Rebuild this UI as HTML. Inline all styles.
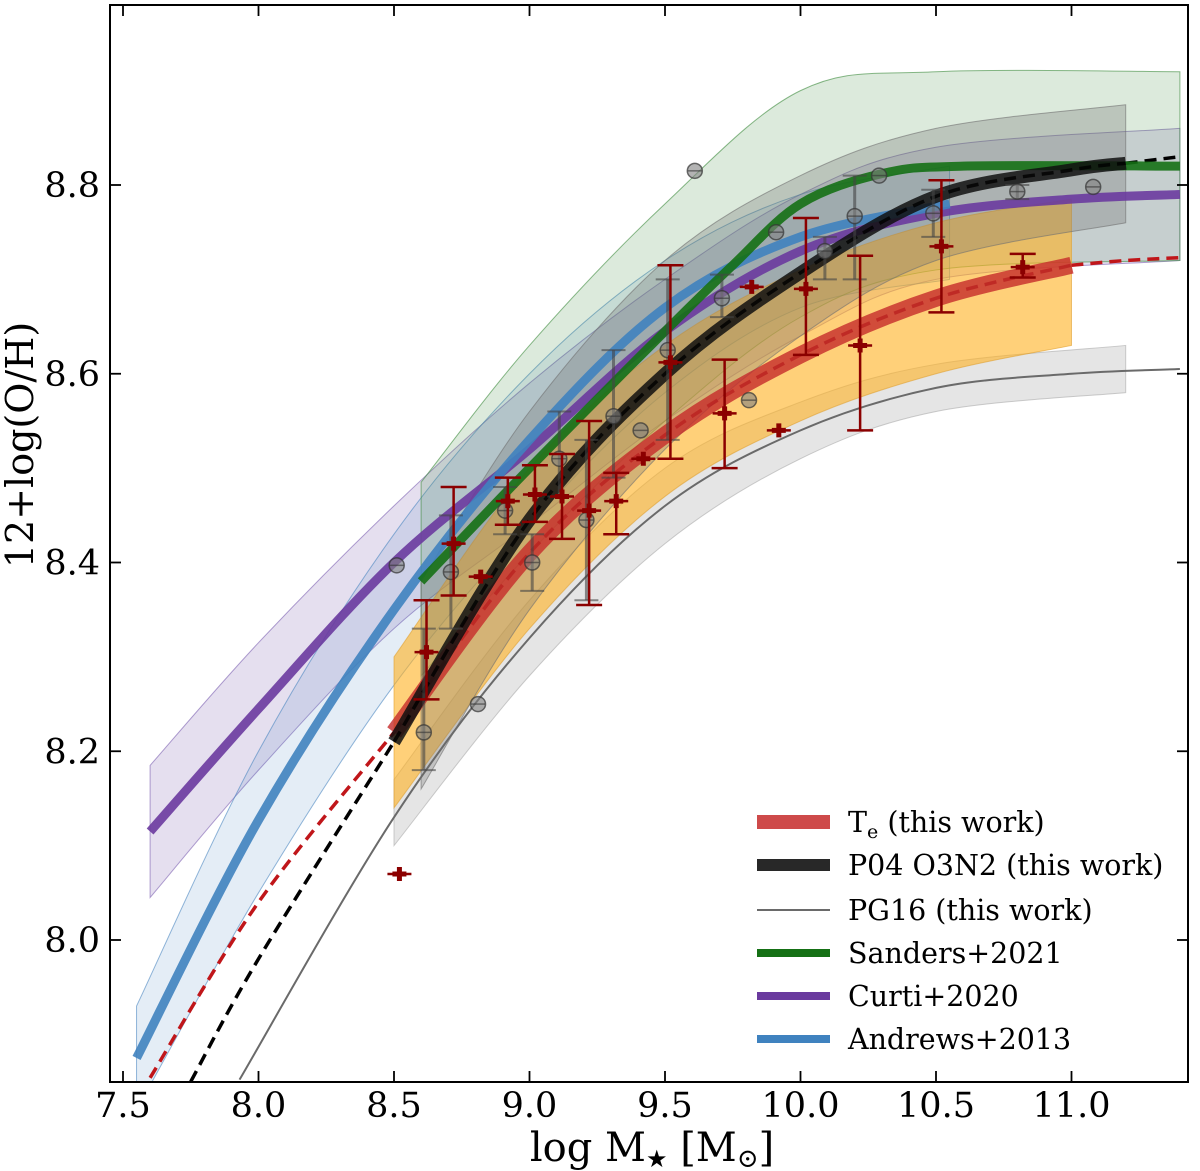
<!DOCTYPE html>
<html><head><meta charset="utf-8"><style>
body{margin:0;background:#fff;}
svg{display:block;font-family:"DejaVu Serif","Liberation Serif",serif;}
</style></head><body>
<svg id="chart" width="1200" height="1171" viewBox="0 0 1200 1171" xmlns="http://www.w3.org/2000/svg">
<defs><clipPath id="clip"><rect x="110" y="5" width="1078" height="1077"/></clipPath></defs>
<g id="bands" clip-path="url(#clip)"></g>
<g id="lines" clip-path="url(#clip)"></g>
<g id="points"></g>
<g id="axes"></g>
<g id="legend"></g>
</svg>
<script>
// ---- data ----
const xTicks=[7.5,8.0,8.5,9.0,9.5,10.0,10.5,11.0];
const yTicks=[8.0,8.2,8.4,8.6,8.8];
// Te relation
const teX=[8.5,9.0,9.5,10.0,10.5,11.0];
const teY=[8.22,8.41,8.535,8.62,8.68,8.715];
const teExtLoX=[7.6,8.0,8.5];
const teExtLoY=[7.854,8.04,8.22];
const teExtHiX=[11.0,11.2,11.4];
const teExtHiY=[8.715,8.72,8.723];
const teBandX=[8.5,9.0,9.5,10.0,10.5,11.0];
const teBandHi=[8.30,8.50,8.63,8.71,8.76,8.785];
const teBandLo=[8.14,8.33,8.47,8.55,8.60,8.63];
// P04 O3N2
const p04X=[8.5,9.0,9.5,10.0,10.5,11.0,11.2];
const p04Y=[8.21,8.445,8.60,8.707,8.788,8.816,8.823];
const p04ExtLoX=[7.75,8.0,8.5];
const p04ExtLoY=[7.85,7.98,8.21];
const p04ExtHiX=[11.2,11.4];
const p04ExtHiY=[8.823,8.83];
const p04BandX=[8.6,9.0,9.5,10.0,10.5,11.2];
const p04BandHi=[8.38,8.56,8.72,8.81,8.86,8.885];
const p04BandLo=[8.16,8.35,8.52,8.64,8.72,8.76];
// PG16
const pgX=[7.93,8.5,9.0,9.5,10.0,10.5,11.0,11.4];
const pgY=[7.852,8.13,8.32,8.46,8.54,8.585,8.60,8.605];
const pgBandX=[8.5,9.0,9.5,10.0,10.5,11.2];
const pgBandHi=[8.17,8.36,8.50,8.57,8.61,8.63];
const pgBandLo=[8.10,8.28,8.42,8.51,8.56,8.58];
// Sanders+2021
const sanX=[8.6,9.0,9.5,9.75,10.0,10.3,10.6,11.4];
const sanY=[8.38,8.50,8.645,8.715,8.78,8.812,8.82,8.82];
const sanBandX=[8.6,9.0,9.5,10.0,10.5,11.4];
const sanBandHi=[8.485,8.63,8.78,8.90,8.92,8.92];
const sanBandLo=[8.28,8.41,8.55,8.66,8.71,8.72];
// Curti+2020
const curX=[7.6,8.0,8.5,9.0,9.5,10.0,10.5,11.0,11.4];
const curY=[8.115,8.245,8.40,8.52,8.645,8.73,8.77,8.785,8.79];
const curBandX=[7.6,8.0,8.5,9.0,9.5,10.0,10.5,11.4];
const curBandHi=[8.185,8.315,8.46,8.59,8.70,8.79,8.84,8.86];
const curBandLo=[8.045,8.18,8.33,8.44,8.55,8.64,8.70,8.72];
// Andrews+2013
const andX=[7.55,8.0,8.5,9.0,9.5,10.0,10.55];
const andY=[7.875,8.127,8.35,8.53,8.67,8.745,8.78];
const andBandX=[7.55,8.0,8.5,9.0,9.5,10.0,10.55];
const andBandHi=[7.93,8.20,8.43,8.60,8.72,8.79,8.82];
const andBandLo=[7.82,8.05,8.27,8.44,8.58,8.67,8.70];
// red Te stacked points
const redX=[8.52,8.62,8.72,8.82,8.92,9.02,9.12,9.22,9.32,9.42,9.52,9.72,9.82,9.92,10.02,10.22,10.52,10.82];
const redY=[8.07,8.305,8.42,8.385,8.465,8.472,8.47,8.455,8.465,8.51,8.612,8.558,8.692,8.54,8.69,8.63,8.735,8.713];
const redLo=[null,8.255,8.365,null,8.44,8.443,8.425,8.355,8.43,null,8.51,8.50,null,null,8.62,8.54,8.665,8.702];
const redHi=[null,8.36,8.48,null,8.49,8.503,8.515,8.55,8.495,null,8.715,8.615,null,null,8.765,8.725,8.805,8.727];
// gray P04 stacked points
const grayX=[8.51,8.61,8.71,8.81,8.91,9.01,9.11,9.21,9.31,9.41,9.51,9.61,9.71,9.81,9.91,10.09,10.2,10.29,10.49,10.8,11.08];
const grayY=[8.397,8.22,8.39,8.25,8.455,8.40,8.51,8.445,8.555,8.54,8.625,8.815,8.68,8.572,8.75,8.73,8.767,8.81,8.77,8.793,8.798];
const grayLo=[null,8.18,8.33,null,8.43,8.37,8.47,8.36,8.49,null,8.53,null,8.66,null,null,8.70,8.70,null,8.745,8.785,null];
const grayHi=[null,8.33,8.45,null,8.48,8.43,8.56,8.53,8.625,null,8.70,null,8.705,null,null,8.745,8.81,null,8.795,8.80,null];

// ---- scales ----
const X=v=>123+(v-7.5)*271;
const Y=v=>940-(v-8.0)*943.75;
const NS='http://www.w3.org/2000/svg';
function mk(tag,attrs,parent){const e=document.createElementNS(NS,tag);for(const k in attrs)e.setAttribute(k,attrs[k]);parent.appendChild(e);return e;}
function smooth(xs,ys){
  const p=xs.map((x,i)=>[X(x),Y(ys[i])]);
  let d='M'+p[0][0]+','+p[0][1];
  for(let i=0;i<p.length-1;i++){
    const p0=p[i-1]||p[i],p1=p[i],p2=p[i+1],p3=p[i+2]||p2;
    const c1=[p1[0]+(p2[0]-p0[0])/6,p1[1]+(p2[1]-p0[1])/6];
    const c2=[p2[0]-(p3[0]-p1[0])/6,p2[1]-(p3[1]-p1[1])/6];
    d+=` C${c1[0]},${c1[1]} ${c2[0]},${c2[1]} ${p2[0]},${p2[1]}`;
  }
  return d;
}
function bandPath(xs,hi,lo){
  const top=smooth(xs,hi);
  const rx=xs.slice().reverse(),rl=lo.slice().reverse();
  const bot=smooth(rx,rl).replace(/^M/,'L');
  return top+' '+bot+' Z';
}
const bands=document.getElementById('bands');
const lines=document.getElementById('lines');
const points=document.getElementById('points');
const axes=document.getElementById('axes');
const legend=document.getElementById('legend');

function band(xs,hi,lo,fill,op,stroke,name){
  const e=mk('path',{d:bandPath(xs,hi,lo),fill:fill,'fill-opacity':op,stroke:stroke,'stroke-width':1,'stroke-opacity':0.6},bands);
  
  
}
band(curBandX,curBandHi,curBandLo,'#7b5fb0',0.2,'#7b5fb0','curti-band');
band(andBandX,andBandHi,andBandLo,'#4a86c0',0.15,'#4a86c0','andrews-band');
band(sanBandX,sanBandHi,sanBandLo,'#3c8a3c',0.18,'#3c8a3c','sanders-band');
band(pgBandX,pgBandHi,pgBandLo,'#999999',0.25,'#aaaaaa','pg16-band');
band(teBandX,teBandHi,teBandLo,'#ffb020',0.6,'#e0a030','te-band');
band(p04BandX,p04BandHi,p04BandLo,'#707070',0.3,'#707070','p04-band');

function line(xs,ys,color,w,dash,op,name){
  const e=mk('path',{d:smooth(xs,ys),fill:'none',stroke:color,'stroke-width':w,'stroke-opacity':op||1,'stroke-dasharray':dash||'none','stroke-linecap':'butt'},lines);
  
  
}
line(pgX,pgY,'#6a6a6a',2,null,1,'pg16-line');
line(teExtLoX,teExtLoY,'#c0161a',3.5,'12,7',1,'te-extrapolation-low');
line(p04ExtLoX,p04ExtLoY,'#000',3.5,'12,7',1,'p04-extrapolation-low');
line(teExtHiX,teExtHiY,'#c0161a',3.5,'12,7',1,'te-extrapolation-high');
line(p04ExtHiX,p04ExtHiY,'#000',3.5,'12,7',1,'p04-extrapolation-high');
line(curX,curY,'#6a3a9e',9,null,0.9,'curti-line');
line(andX,andY,'#3f82bf',9,null,0.9,'andrews-line');
line(sanX,sanY,'#157015',9,null,0.9,'sanders-line');
line(teX,teY,'#c62a2a',17,null,0.8,'te-line');
line(teX,teY,'#b81c1c',3.5,'12,7',0.7,'te-line-dashed');
line(p04X,p04Y,'#111',13,null,0.85,'p04-line');
line(p04X,p04Y,'#000',3.5,'12,7',0.8,'p04-line-dashed');

// gray points
grayX.forEach((x,i)=>{
  const g=mk('g',{},points);
  
  
  const cx=X(x),cy=Y(grayY[i]);
  if(grayLo[i]!==null){
    mk('line',{x1:cx,x2:cx,y1:Y(grayLo[i]),y2:Y(grayHi[i]),stroke:'#444','stroke-opacity':0.6,'stroke-width':3},g);
    mk('line',{x1:cx-12,x2:cx+12,y1:Y(grayLo[i]),y2:Y(grayLo[i]),stroke:'#444','stroke-opacity':0.6,'stroke-width':2},g);
    mk('line',{x1:cx-12,x2:cx+12,y1:Y(grayHi[i]),y2:Y(grayHi[i]),stroke:'#444','stroke-opacity':0.6,'stroke-width':2},g);
  }
  mk('circle',{cx:cx,cy:cy,r:7.5,fill:'#808080','fill-opacity':0.6,stroke:'#333','stroke-opacity':0.7,'stroke-width':1.5},g);
  mk('line',{x1:cx-7,x2:cx+7,y1:cy,y2:cy,stroke:'#333','stroke-opacity':0.6,'stroke-width':1.5},g);
});
// red points
redX.forEach((x,i)=>{
  const g=mk('g',{},points);
  
  
  const cx=X(x),cy=Y(redY[i]);
  const c='#8b0000';
  mk('line',{x1:cx-12,x2:cx+12,y1:cy,y2:cy,stroke:c,'stroke-width':2.5},g);
  if(redLo[i]!==null){
    mk('line',{x1:cx,x2:cx,y1:Y(redLo[i]),y2:Y(redHi[i]),stroke:c,'stroke-width':2.5},g);
    mk('line',{x1:cx-13,x2:cx+13,y1:Y(redLo[i]),y2:Y(redLo[i]),stroke:c,'stroke-width':2.5},g);
    mk('line',{x1:cx-13,x2:cx+13,y1:Y(redHi[i]),y2:Y(redHi[i]),stroke:c,'stroke-width':2.5},g);
  }
  mk('path',{d:`M${cx-2.5},${cy-7}h5v4.5h4.5v5h-4.5v4.5h-5v-4.5h-4.5v-5h4.5z`,fill:c},g);
});

// axes frame
const fr=mk('rect',{x:110,y:5,width:1078,height:1077,fill:'none',stroke:'#000','stroke-width':2},axes);


xTicks.forEach(v=>{
  const x=X(v);
  mk('line',{x1:x,x2:x,y1:1082,y2:1071,stroke:'#000','stroke-width':1.8},axes);
  mk('line',{x1:x,x2:x,y1:5,y2:16,stroke:'#000','stroke-width':1.8},axes);
  const t=mk('text',{x:x,y:1117,'text-anchor':'middle','font-size':35,fill:'#000'},axes);
  t.textContent=v.toFixed(1);
  
  
});
yTicks.forEach(v=>{
  const y=Y(v);
  mk('line',{x1:110,x2:121,y1:y,y2:y,stroke:'#000','stroke-width':1.8},axes);
  mk('line',{x1:1188,x2:1177,y1:y,y2:y,stroke:'#000','stroke-width':1.8},axes);
  const t=mk('text',{x:100,y:y+12,'text-anchor':'end','font-size':35,fill:'#000'},axes);
  t.textContent=v.toFixed(1);
  
  
});
const xl=mk('text',{x:652,y:1161,'text-anchor':'middle','font-size':40,fill:'#000'},axes);
xl.innerHTML='log M<tspan font-size="24" dy="6">★</tspan><tspan dy="-6"> [M</tspan><tspan font-size="26" dy="6">⊙</tspan><tspan dy="-6">]</tspan>';


const yl=mk('text',{x:0,y:0,'text-anchor':'middle','font-size':38,fill:'#000',transform:'translate(33,445) rotate(-90)'},axes);
yl.textContent='12+log(O/H)';



// legend
const legItems=[
  ['#c62a2a',14,0.85,'T','legend-te'],
  ['#111',12,0.9,'P04 O3N2 (this work)','legend-p04'],
  ['#6a6a6a',2,1,'PG16 (this work)','legend-pg16'],
  ['#157015',8,1,'Sanders+2021','legend-sanders'],
  ['#6a3a9e',8,1,'Curti+2020','legend-curti'],
  ['#3f82bf',8,1,'Andrews+2013','legend-andrews']
];
const legY=[822,865,910,953,996,1039];
legItems.forEach((it,i)=>{
  const g=mk('g',{},legend);
  
  
  mk('line',{x1:757,x2:830,y1:legY[i],y2:legY[i],stroke:it[0],'stroke-width':it[1],'stroke-opacity':it[2]},g);
  const t=mk('text',{x:848,y:legY[i]+10,'font-size':28.5,fill:'#000'},g);
  if(i===0){t.setAttribute('xml:space','preserve');t.innerHTML='T<tspan font-size="19" dy="6">e</tspan><tspan dy="-6">  (this work)</tspan>';}
  else t.textContent=it[3];
});
</script>
</body></html>
